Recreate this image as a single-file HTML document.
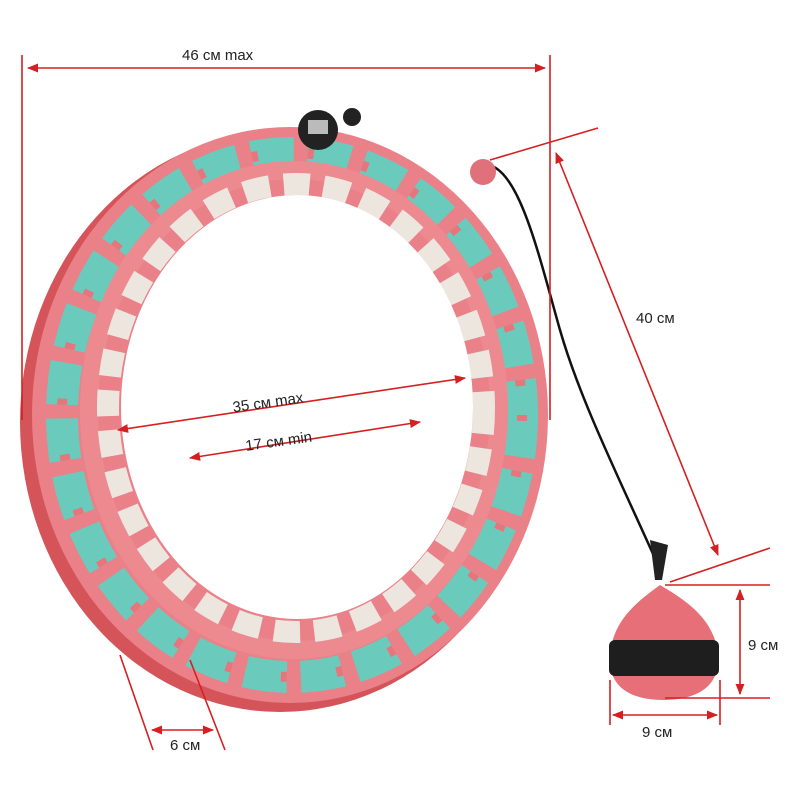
<!DOCTYPE html>
<html><head><meta charset="utf-8"><style>
html,body{margin:0;padding:0;background:#fff;}
svg{display:block}
text{font-family:"Liberation Sans",sans-serif;font-size:15px;fill:#222}
</style></head><body>
<svg width="800" height="800" viewBox="0 0 800 800" xmlns="http://www.w3.org/2000/svg">
<defs>
<marker id="a" viewBox="0 0 10 10" refX="9" refY="5" markerWidth="7" markerHeight="7" orient="auto-start-reverse"><path d="M0,1 L10,5 L0,9 z" fill="#d42020"/></marker>
</defs>
<ellipse cx="280" cy="422" rx="260" ry="290" fill="#d4545a"/>
<ellipse cx="290" cy="415" rx="258" ry="288" fill="#ea8088"/>
<ellipse cx="292" cy="415" rx="230" ry="262" fill="none" stroke="#6acbbd" stroke-width="32" stroke-dasharray="42 14"/>
<ellipse cx="292" cy="415" rx="230" ry="262" fill="none" stroke="#e8747c" stroke-width="10" stroke-dasharray="6 50"/>
<ellipse cx="294" cy="410" rx="205" ry="240" fill="none" stroke="#ec8a90" stroke-width="18"/>
<ellipse cx="296" cy="408" rx="188" ry="224" fill="none" stroke="#ece6df" stroke-width="22" stroke-dasharray="26 14"/>
<ellipse cx="297" cy="407" rx="176" ry="212" fill="#fff"/>
<circle cx="318" cy="130" r="20" fill="#222"/>
<rect x="308" y="120" width="20" height="14" fill="#bbb"/>
<circle cx="352" cy="117" r="9" fill="#222"/>
<path d="M488,165 C520,170 540,260 560,330 C580,400 620,480 658,565" fill="none" stroke="#111" stroke-width="2.5"/>
<circle cx="483" cy="172" r="13" fill="#e0707a"/>
<path d="M650,540 L668,545 L662,580 L655,580 z" fill="#222"/>
<path d="M660,585 C640,600 610,620 610,660 C610,690 635,700 663,700 C692,700 718,690 718,660 C718,620 685,600 660,585 z" fill="#e66f78"/>
<rect x="609" y="640" width="110" height="36" rx="6" fill="#1e1e1e"/>
<g stroke="#d42020" stroke-width="1.6" fill="none">
<line x1="22" y1="55" x2="22" y2="420"/>
<line x1="550" y1="55" x2="550" y2="420"/>
<line x1="28" y1="68" x2="545" y2="68" marker-start="url(#a)" marker-end="url(#a)"/>
<line x1="118" y1="430" x2="465" y2="378" marker-start="url(#a)" marker-end="url(#a)"/>
<line x1="190" y1="458" x2="420" y2="422" marker-start="url(#a)" marker-end="url(#a)"/>
<line x1="490" y1="160" x2="598" y2="128"/>
<line x1="670" y1="582" x2="770" y2="548"/>
<line x1="556" y1="153" x2="718" y2="555" marker-start="url(#a)" marker-end="url(#a)"/>
<line x1="665" y1="585" x2="770" y2="585"/>
<line x1="665" y1="698" x2="770" y2="698"/>
<line x1="740" y1="590" x2="740" y2="694" marker-start="url(#a)" marker-end="url(#a)"/>
<line x1="610" y1="680" x2="610" y2="725"/>
<line x1="720" y1="680" x2="720" y2="725"/>
<line x1="613" y1="715" x2="717" y2="715" marker-start="url(#a)" marker-end="url(#a)"/>
<line x1="120" y1="655" x2="153" y2="750"/>
<line x1="190" y1="660" x2="225" y2="750"/>
<line x1="152" y1="730" x2="213" y2="730" marker-start="url(#a)" marker-end="url(#a)"/>
</g>
<text x="182" y="60">46 см max</text>
<text x="232" y="407" transform="rotate(-8 270 400)">35 см max</text>
<text x="245" y="446" transform="rotate(-8 280 440)">17 см min</text>
<text x="636" y="323">40 см</text>
<text x="748" y="650">9 см</text>
<text x="642" y="737">9 см</text>
<text x="170" y="750">6 см</text>
</svg>
</body></html>
